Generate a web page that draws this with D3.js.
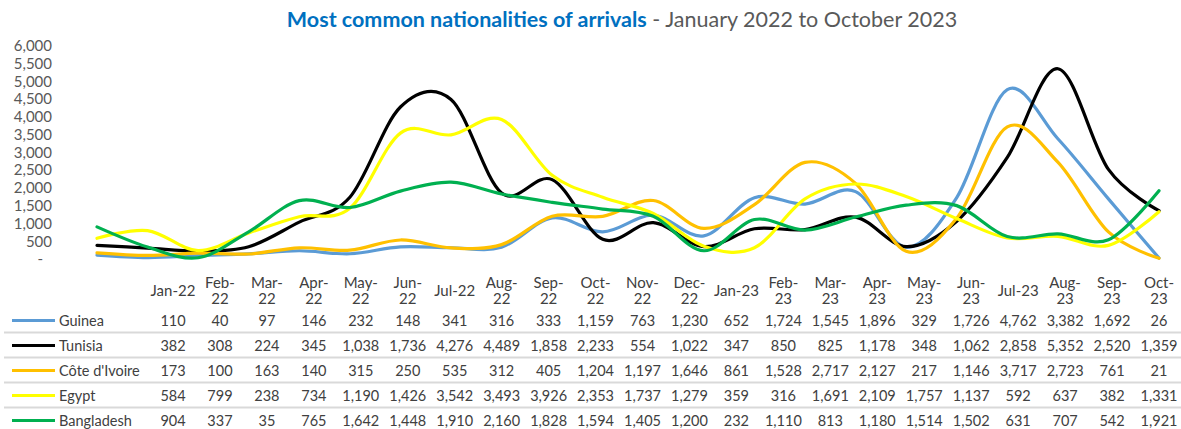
<!DOCTYPE html>
<html>
<head>
<meta charset="utf-8">
<script src="https://cdn.jsdelivr.net/npm/d3@7"></script>
<style>
  html, body { margin: 0; padding: 0; background: #fff; }
  svg { display: block; font-family: Lato, "Open Sans", sans-serif; }
</style>
</head>
<body>
<svg id="chart" width="1181" height="429"></svg>
<script>
// Monthly arrivals by nationality, January 2022 – October 2023
const months = ["Jan-22","Feb-22","Mar-22","Apr-22","May-22","Jun-22","Jul-22","Aug-22","Sep-22","Oct-22","Nov-22","Dec-22",
                "Jan-23","Feb-23","Mar-23","Apr-23","May-23","Jun-23","Jul-23","Aug-23","Sep-23","Oct-23"];
// Column headings of the data table (wrapped where the cell is too narrow)
const headerLabels = ["Jan-22","Feb-\n22","Mar-\n22","Apr-\n22","May-\n22","Jun-\n22","Jul-22","Aug-\n22","Sep-\n22","Oct-\n22","Nov-\n22","Dec-\n22",
                      "Jan-23","Feb-\n23","Mar-\n23","Apr-\n23","May-\n23","Jun-\n23","Jul-23","Aug-\n23","Sep-\n23","Oct-\n23"];

const seriesNames = ["Guinea", "Tunisia", "Côte d'Ivoire", "Egypt", "Bangladesh"];
const guinea      = [110, 40, 97, 146, 232, 148, 341, 316, 333, 1159, 763, 1230, 652, 1724, 1545, 1896, 329, 1726, 4762, 3382, 1692, 26];
const tunisia     = [382, 308, 224, 345, 1038, 1736, 4276, 4489, 1858, 2233, 554, 1022, 347, 850, 825, 1178, 348, 1062, 2858, 5352, 2520, 1359];
const coteIvoire  = [173, 100, 163, 140, 315, 250, 535, 312, 405, 1204, 1197, 1646, 861, 1528, 2717, 2127, 217, 1146, 3717, 2723, 761, 21];
const egypt       = [584, 799, 238, 734, 1190, 1426, 3542, 3493, 3926, 2353, 1737, 1279, 359, 316, 1691, 2109, 1757, 1137, 592, 637, 382, 1331];
const bangladesh  = [904, 337, 35, 765, 1642, 1448, 1910, 2160, 1828, 1594, 1405, 1200, 232, 1110, 813, 1180, 1514, 1502, 631, 707, 542, 1921];
const yTicks = [0, 500, 1000, 1500, 2000, 2500, 3000, 3500, 4000, 4500, 5000, 5500, 6000];

const seriesValues = [guinea, tunisia, coteIvoire, egypt, bangladesh];
const seriesColors = ["#5B9BD5", "#000000", "#FFC000", "#FFFF00", "#00B050"];

const svg = d3.select("#chart");
const textColor = "#595959";

// Title
const title = svg.append("text")
  .attr("x", 622).attr("y", 27)
  .attr("text-anchor", "middle")
  .style("font-size", "21.5px");
title.append("tspan").attr("fill", "#0070C0").style("font-weight", 700)
  .text("Most common nationalities of arrivals");
title.append("tspan").attr("fill", textColor).style("font-weight", 400)
  .text(" - January 2022 to October 2023");

// Scales
const x = d3.scalePoint().domain(months).range([97, 1159]);
const y = d3.scaleLinear().domain([0, 6000]).range([259, 45.7]);

// Value axis
const yAxis = svg.append("g")
  .attr("transform", "translate(52,0)")
  .call(d3.axisLeft(y).tickValues(yTicks).tickSize(0).tickPadding(0)
    .tickFormat(d => d === 0 ? "-" : d3.format(",")(d)));
yAxis.select(".domain").remove();
yAxis.selectAll("text")
  .attr("fill", textColor)
  .style("font-size", "15px")
  .style("font-family", "Lato, sans-serif")
  .attr("dx", d => d === 0 ? -9 : 0);

// Smoothed series lines
const line = d3.line()
  .x((d, i) => x(months[i]))
  .y(d => y(d))
  .curve(d3.curveCardinal.tension(0));

svg.append("g").selectAll("path")
  .data(seriesValues)
  .join("path")
  .attr("d", d => line(d))
  .attr("fill", "none")
  .attr("stroke", (d, i) => seriesColors[i])
  .attr("stroke-width", 3.2)
  .attr("stroke-linejoin", "round")
  .attr("stroke-linecap", "round");

// Data table
const col = d3.scalePoint().domain(months).range([173, 1159]);
const rowY = d3.scalePoint().domain(seriesNames).range([320.5, 420.5]);

const header = svg.append("g").selectAll("text")
  .data(headerLabels)
  .join("text")
  .attr("x", (d, i) => col(months[i]))
  .attr("text-anchor", "middle")
  .attr("fill", "#404040")
  .style("font-size", "15px");
header.each(function(d) {
  const parts = d.split("\n");
  const t = d3.select(this);
  if (parts.length === 1) {
    t.append("tspan").attr("x", t.attr("x")).attr("y", 291).attr("dy", "0.35em").text(parts[0]);
  } else {
    parts.forEach((p, k) => {
      t.append("tspan").attr("x", t.attr("x")).attr("y", 283 + k * 16).attr("dy", "0.35em").text(p);
    });
  }
});

// Row separators
svg.append("g").selectAll("line")
  .data(seriesNames.slice(0, -1))
  .join("line")
  .attr("x1", 4).attr("x2", 1181)
  .attr("y1", d => rowY(d) + 12).attr("y2", d => rowY(d) + 12)
  .attr("stroke", "#D9D9D9")
  .attr("stroke-width", 2);

const rows = svg.append("g").selectAll("g")
  .data(seriesNames)
  .join("g")
  .attr("transform", d => `translate(0,${rowY(d)})`);

rows.append("line")
  .attr("x1", 12).attr("x2", 55)
  .attr("stroke", (d, i) => seriesColors[i])
  .attr("stroke-width", 3);

rows.append("text")
  .attr("x", 59).attr("dy", "0.35em")
  .attr("fill", "#404040")
  .style("font-size", "14.5px")
  .text(d => d);

rows.each(function(name, i) {
  d3.select(this).selectAll("text.val")
    .data(seriesValues[i])
    .join("text")
    .attr("class", "val")
    .attr("x", (v, j) => col(months[j]))
    .attr("dy", "0.35em")
    .attr("text-anchor", "middle")
    .attr("fill", "#404040")
    .style("font-size", "14.5px")
    .text(v => d3.format(",")(v));
});
</script>
</body>
</html>
